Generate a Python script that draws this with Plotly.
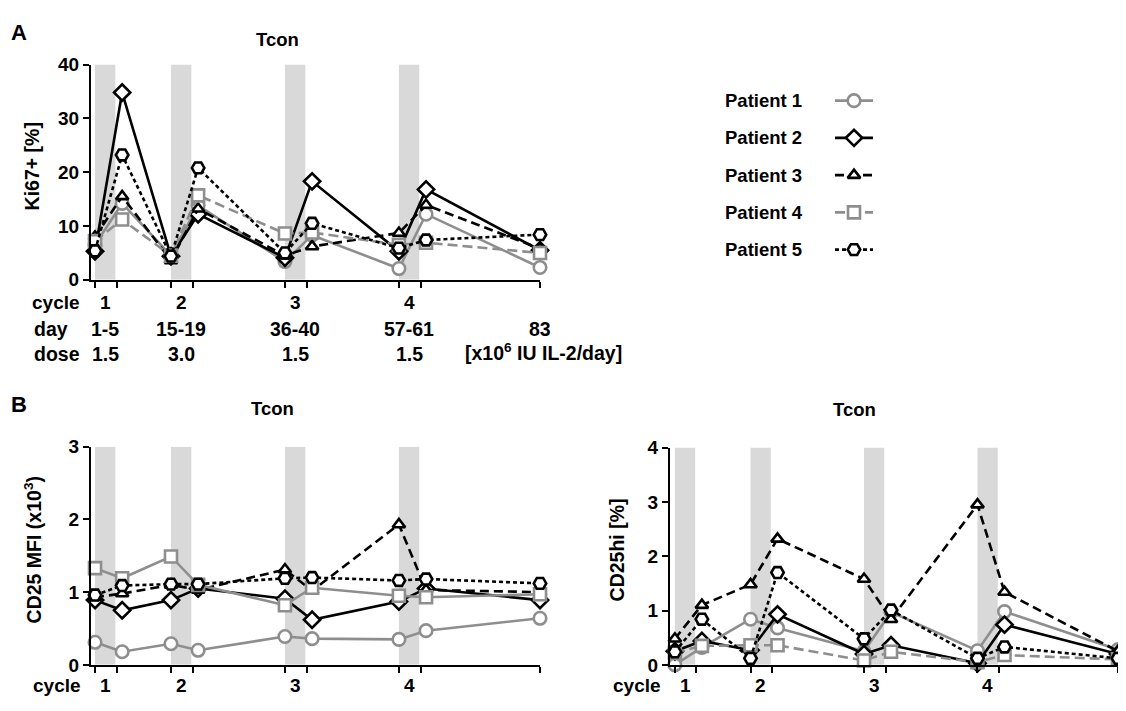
import plotly.graph_objects as go

# ---------------- data ----------------
patients = ["Patient 1", "Patient 2", "Patient 3", "Patient 4", "Patient 5"]
days = [1, 6, 15, 20, 36, 41, 57, 62, 83]            # sampling days
tick_days = [1, 5, 15, 19, 36, 40, 57, 61, 83]       # x-axis tick marks
cycle_starts = [1, 15, 36, 57]                       # IL-2 treatment cycles
cycle_labels = ["1", "2", "3", "4"]
day_labels = ["1-5", "15-19", "36-40", "57-61"]
last_day_label = "83"
dose_labels = ["1.5", "3.0", "1.5", "1.5"]

# Panel A: Ki67+ [%]
ki67_p1 = [6.5, 14.2, 4.5, 13.8, 3.4, 8.3, 2.1, 12.2, 2.3]
ki67_p2 = [5.3, 34.8, 4.4, 12.2, 4.1, 18.3, 5.3, 16.8, 5.5]
ki67_p3 = [8.0, 15.5, 3.6, 13.2, 4.5, 6.2, 8.7, 13.9, 5.8]
ki67_p4 = [7.2, 11.2, 4.5, 15.7, 8.6, 8.8, 6.5, 6.9, 5.0]
ki67_p5 = [5.4, 23.2, 4.4, 20.8, 5.0, 10.5, 5.9, 7.4, 8.4]

# Panel B left: CD25 MFI (x10^3)
mfi_p1 = [0.31, 0.18, 0.29, 0.20, 0.39, 0.36, 0.35, 0.47, 0.64]
mfi_p2 = [0.89, 0.75, 0.89, 1.05, 0.91, 0.62, 0.87, 1.05, 0.89]
mfi_p3 = [0.93, 0.98, 1.10, 1.03, 1.31, 1.02, 1.93, 1.03, 1.00]
mfi_p4 = [1.33, 1.19, 1.49, 1.10, 0.82, 1.06, 0.95, 0.93, 0.97]
mfi_p5 = [0.96, 1.09, 1.11, 1.11, 1.19, 1.20, 1.16, 1.18, 1.12]

# Panel B right: CD25hi [%]
hi_p1 = [0.00, 0.32, 0.84, 0.68, 0.25, 0.97, 0.26, 0.98, 0.28]
hi_p2 = [0.25, 0.44, 0.27, 0.93, 0.20, 0.36, 0.03, 0.74, 0.20]
hi_p3 = [0.48, 1.10, 1.48, 2.32, 1.58, 0.84, 2.95, 1.34, 0.25]
hi_p4 = [0.22, 0.35, 0.36, 0.36, 0.08, 0.24, 0.05, 0.18, 0.10]
hi_p5 = [0.24, 0.84, 0.12, 1.70, 0.48, 1.01, 0.12, 0.33, 0.12]

ki67 = [ki67_p1, ki67_p2, ki67_p3, ki67_p4, ki67_p5]
mfi = [mfi_p1, mfi_p2, mfi_p3, mfi_p4, mfi_p5]
cd25hi = [hi_p1, hi_p2, hi_p3, hi_p4, hi_p5]

# ---------------- styles ----------------
OFF = 8                      # page body margin
W, H = 1126 - 2 * OFF, 711 - 2 * OFF
GRAY = "#8e8e8e"
BAND = "#d9d9d9"
FONT = "Liberation Sans, Arial, sans-serif"
LW = 2.6
styles = [
    dict(color=GRAY, dash="solid", symbol="circle", size=12.5),
    dict(color="black", dash="solid", symbol="diamond", size=12.5),
    dict(color="black", dash="9px,5px", symbol="triangle-up", size=11),
    dict(color=GRAY, dash="10px,5px", symbol="square", size=12),
    dict(color="black", dash="4px,3px", symbol="hexagon2", size=12.5),
]
BAND_W = 3.75


def X(px):
    return min(1.0, max(0.0, (px - OFF) / W))


def Y(py):
    return min(1.0, max(0.0, 1 - (py - OFF) / H))


def bold(size):
    return dict(family=FONT, size=size, color="black", weight="bold")


fig = go.Figure()

panels = [
    dict(xa="x", ya="y", data=ki67, xdom=(91, 540), ydom=(56, 278), yr=[0, 40],
         yt=[0, 10, 20, 30, 40], xr=[0.26, 83], cyc_right=82, cyc_y=301.5),
    dict(xa="x2", ya="y2", data=mfi, xdom=(91, 540), ydom=(450, 675), yr=[0, 3],
         yt=[0, 1, 2, 3], xr=[0.26, 83], cyc_right=82.5, cyc_y=696),
    dict(xa="x3", ya="y3", data=cd25hi, xdom=(670, 1118), ydom=(451, 675), yr=[0, 4],
         yt=[0, 1, 2, 3, 4], xr=[0.1, 83], cyc_right=663, cyc_y=696),
]

shapes = []
annotations = []
for pi, p in enumerate(panels):
    for i, series in enumerate(p["data"]):
        st = styles[i]
        dash = st["dash"]
        if pi == 1 and i == 3:
            dash = "solid"
        fig.add_trace(go.Scatter(
            x=days, y=series, xaxis=p["xa"], yaxis=p["ya"],
            mode="lines+markers", name=patients[i], showlegend=False,
            cliponaxis=False,
            line=dict(color=st["color"], width=LW, dash=dash),
            marker=dict(symbol=st["symbol"], size=st["size"], color="white",
                        line=dict(color=st["color"], width=LW)),
        ))
    for s in cycle_starts:
        shapes.append(dict(type="rect", xref=p["xa"], yref=p["ya"], x0=s, x1=s + BAND_W,
                           y0=p["yr"][0], y1=p["yr"][1], fillcolor=BAND, line=dict(width=0),
                           layer="below"))
    axn = "" if pi == 0 else str(pi + 1)
    fig.update_layout(**{
        "xaxis" + axn: dict(domain=[X(p["xdom"][0]), X(p["xdom"][1])], range=p["xr"],
                            anchor=p["ya"], showline=True, linecolor="black", linewidth=2,
                            ticks="outside", tickvals=tick_days, ticklen=6, tickwidth=2,
                            tickcolor="black", showticklabels=False, showgrid=False,
                            zeroline=False),
        "yaxis" + axn: dict(domain=[Y(p["ydom"][1]), Y(p["ydom"][0])], range=p["yr"],
                            anchor=p["xa"], showline=True, linecolor="black", linewidth=2,
                            ticks="outside", tickvals=p["yt"], ticklen=6, tickwidth=2,
                            tickcolor="black", showgrid=False, zeroline=False,
                            tickfont=bold(19)),
    })
    # cycle row
    for s, lab in zip(cycle_starts, cycle_labels):
        annotations.append(dict(xref=p["xa"], yref="paper", x=s + BAND_W / 2,
                                y=Y(p["cyc_y"]), text=lab, showarrow=False,
                                xanchor="center", yanchor="middle", font=bold(19)))
    annotations.append(dict(xref="paper", yref="paper", x=X(p["cyc_right"]), y=Y(p["cyc_y"]),
                            text="cycle", showarrow=False, xanchor="right", yanchor="middle",
                            font=bold(19)))

# panel A day / dose rows
DAY_Y, DOSE_Y = 329, 354
for s, lab in zip(cycle_starts, day_labels):
    annotations.append(dict(xref="x", yref="paper", x=s + BAND_W / 2, y=Y(DAY_Y), text=lab,
                            showarrow=False, xanchor="center", yanchor="middle",
                            font=bold(19.5)))
annotations.append(dict(xref="x", yref="paper", x=days[-1], y=Y(DAY_Y), text=last_day_label,
                        showarrow=False, xanchor="center", yanchor="middle", font=bold(19.5)))
for s, lab in zip(cycle_starts, dose_labels):
    annotations.append(dict(xref="x", yref="paper", x=s + BAND_W / 2, y=Y(DOSE_Y), text=lab,
                            showarrow=False, xanchor="center", yanchor="middle",
                            font=bold(19.5)))
annotations.append(dict(xref="paper", yref="paper", x=X(463), y=Y(DOSE_Y - 2),
                        text="[x10<sup>6</sup> IU IL-2/day]", showarrow=False,
                        xanchor="left", yanchor="middle", font=bold(19.5)))
for txt, yy in [("day", DAY_Y), ("dose", DOSE_Y)]:
    annotations.append(dict(xref="paper", yref="paper", x=X(32), y=Y(yy), text=txt,
                            showarrow=False, xanchor="left", yanchor="middle",
                            font=bold(19.5)))

# titles, panel letters, axis titles
for txt, x, y in [("Tcon", 277, 30), ("Tcon", 272, 410.5), ("Tcon", 854, 411.5)]:
    annotations.append(dict(xref="paper", yref="paper", x=X(x), y=Y(y), text=txt,
                            showarrow=False, xanchor="center", yanchor="middle",
                            font=bold(18.5)))
for txt, x, y in [("A", 9, 23), ("B", 9, 407)]:
    annotations.append(dict(xref="paper", yref="paper", x=X(x), y=Y(y), text=txt,
                            showarrow=False, xanchor="left", yanchor="middle",
                            font=bold(22)))
for txt, x, y in [("Ki67+ [%]", 32, 161), ("CD25 MFI (x10<sup>3</sup>)", 33, 557),
                  ("CD25hi [%]", 617, 556)]:
    annotations.append(dict(xref="paper", yref="paper", x=X(x), y=Y(y), text=txt,
                            showarrow=False, xanchor="center", yanchor="middle", textangle=-90,
                            font=bold(19.5)))

# custom legend (label left, symbol right)
fig.update_layout(
    xaxis4=dict(domain=[X(835), X(873)], range=[0, 1], visible=False, anchor="y4"),
    yaxis4=dict(domain=[Y(266), Y(74)], range=[4.5, -0.5], visible=False, anchor="x4"),
)
for i, name in enumerate(patients):
    st = styles[i]
    fig.add_trace(go.Scatter(x=[0, 1], y=[i, i], xaxis="x4", yaxis="y4", mode="lines",
                             showlegend=False, hoverinfo="skip",
                             line=dict(color=st["color"], width=LW, dash=st["dash"])))
    fig.add_trace(go.Scatter(x=[0.5], y=[i], xaxis="x4", yaxis="y4", mode="markers",
                             showlegend=False, hoverinfo="skip", cliponaxis=False,
                             marker=dict(symbol=st["symbol"], size=st["size"], color="white",
                                         line=dict(color=st["color"], width=LW))))
    annotations.append(dict(xref="paper", yref="y4", x=X(723), y=i, text=name,
                            showarrow=False, xanchor="left", yanchor="middle",
                            font=bold(18.5)))

fig.update_layout(
    width=W, height=H, margin=dict(l=0, r=0, t=0, b=0),
    paper_bgcolor="white", plot_bgcolor="white",
    shapes=shapes, annotations=annotations, showlegend=False,
    font=dict(family=FONT, color="black"),
)

fig.write_html("out.html")
